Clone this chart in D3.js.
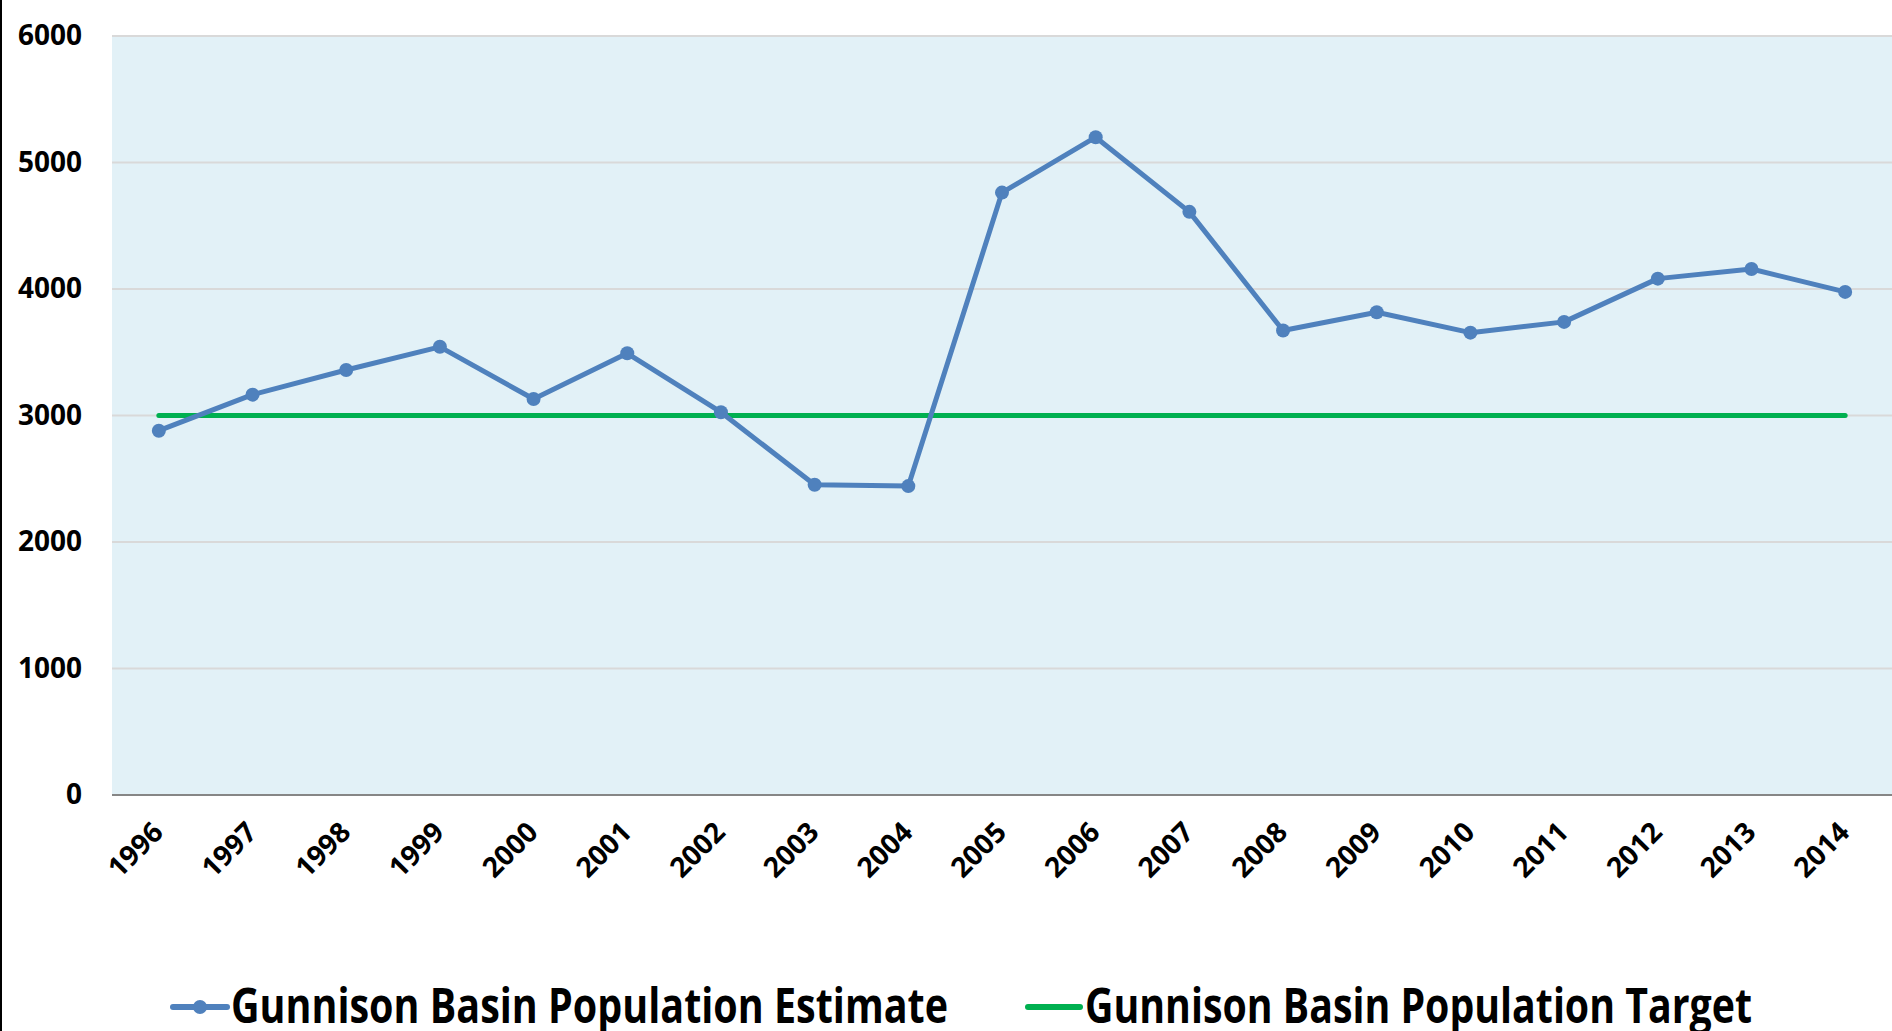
<!DOCTYPE html>
<html>
<head>
<meta charset="utf-8">
<script src="https://cdn.jsdelivr.net/npm/d3@7"></script>
<style>
  body { margin: 0; background: #fff; }
  text { font-family: "Open Sans", sans-serif; font-weight: 700; }
</style>
</head>
<body>
<script>
var w = 1892;
var h = 1031;

// data
var years = ["1996","1997","1998","1999","2000","2001","2002","2003","2004","2005",
             "2006","2007","2008","2009","2010","2011","2012","2013","2014"];
var estimate = [2880, 3165, 3360, 3543, 3130, 3492, 3026, 2452, 2442, 4762,
                5200, 4610, 3672, 3816, 3655, 3740, 4082, 4158, 3977];
var target = [3000, 3000, 3000, 3000, 3000, 3000, 3000, 3000, 3000, 3000,
              3000, 3000, 3000, 3000, 3000, 3000, 3000, 3000, 3000];
var yTicks = [0, 1000, 2000, 3000, 4000, 5000, 6000];
var seriesNames = ["Gunnison Basin Population Estimate", "Gunnison Basin Population Target"];

// plot area ("top" is reserved on window, so use other names)
var plotL = 112, plotR = 1892, plotT = 36, plotB = 795;

var svg = d3.select("body").append("svg")
  .attr("width", w)
  .attr("height", h);

var x = d3.scaleBand().domain(years).range([plotL, plotR]);
var y = d3.scaleLinear().domain([0, 6000]).range([plotB, plotT]);

// plot background
svg.append("rect")
  .attr("x", plotL).attr("y", plotT)
  .attr("width", plotR - plotL).attr("height", plotB - plotT)
  .attr("fill", "#e2f1f7");

// left frame line
svg.append("line")
  .attr("x1", 1).attr("x2", 1).attr("y1", 0).attr("y2", h)
  .attr("stroke", "#000").attr("stroke-width", 2);

// gridlines
svg.append("g").selectAll("line")
  .data(yTicks.filter(function(d) { return d > 0; }))
  .enter().append("line")
  .attr("x1", plotL).attr("x2", plotR)
  .attr("y1", function(d) { return y(d); })
  .attr("y2", function(d) { return y(d); })
  .attr("stroke", "#d9d9d9").attr("stroke-width", 2);

// y axis labels
var yAxis = svg.append("g")
  .attr("transform", "translate(" + (plotL - 30) + ",0)")
  .call(d3.axisLeft(y).tickValues(yTicks).tickFormat(d3.format("d")).tickSize(0).tickPadding(0));
yAxis.select(".domain").remove();
yAxis.selectAll("text")
  .attr("font-size", "28px")
  .attr("font-family", "Open Sans, sans-serif")
  .attr("font-weight", 700)
  .attr("fill", "#000");

// x axis line
svg.append("line")
  .attr("x1", plotL).attr("x2", plotR)
  .attr("y1", plotB).attr("y2", plotB)
  .attr("stroke", "#868686").attr("stroke-width", 2);

// x labels, rotated
svg.append("g").selectAll("text")
  .data(years)
  .enter().append("text")
  .text(function(d) { return d; })
  .attr("transform", function(d) {
    return "translate(" + (x(d) + x.bandwidth() / 2 + 6) + "," + 834 + ") rotate(-45)";
  })
  .attr("text-anchor", "end")
  .attr("font-size", "28px")
  .attr("fill", "#000");

var line = d3.line()
  .x(function(d, i) { return x(years[i]) + x.bandwidth() / 2; })
  .y(function(d) { return y(d); });

// target line
svg.append("path")
  .datum(target)
  .attr("d", line)
  .attr("fill", "none")
  .attr("stroke", "#00b050")
  .attr("stroke-width", 5)
  .attr("stroke-linecap", "round");

// estimate line
svg.append("path")
  .datum(estimate)
  .attr("d", line)
  .attr("fill", "none")
  .attr("stroke", "#4f81bd")
  .attr("stroke-width", 5)
  .attr("stroke-linejoin", "round");

svg.append("g").selectAll("circle")
  .data(estimate)
  .enter().append("circle")
  .attr("cx", function(d, i) { return x(years[i]) + x.bandwidth() / 2; })
  .attr("cy", function(d) { return y(d); })
  .attr("r", 7)
  .attr("fill", "#4f81bd");

// legend
var legY = 1007;
var lg1 = svg.append("g");
lg1.append("line")
  .attr("x1", 173).attr("x2", 227).attr("y1", legY).attr("y2", legY)
  .attr("stroke", "#4f81bd").attr("stroke-width", 6).attr("stroke-linecap", "round");
lg1.append("circle").attr("cx", 200).attr("cy", legY).attr("r", 7).attr("fill", "#4f81bd");
lg1.append("text")
  .text(seriesNames[0])
  .attr("x", 231).attr("y", 1023)
  .attr("font-size", "48px")
  .attr("textLength", 717)
  .attr("lengthAdjust", "spacingAndGlyphs")
  .attr("fill", "#000");

var lg2 = svg.append("g");
lg2.append("line")
  .attr("x1", 1028).attr("x2", 1080).attr("y1", legY).attr("y2", legY)
  .attr("stroke", "#00b050").attr("stroke-width", 6).attr("stroke-linecap", "round");
lg2.append("text")
  .text(seriesNames[1])
  .attr("x", 1085).attr("y", 1023)
  .attr("font-size", "48px")
  .attr("textLength", 667)
  .attr("lengthAdjust", "spacingAndGlyphs")
  .attr("fill", "#000");
</script>
</body>
</html>
